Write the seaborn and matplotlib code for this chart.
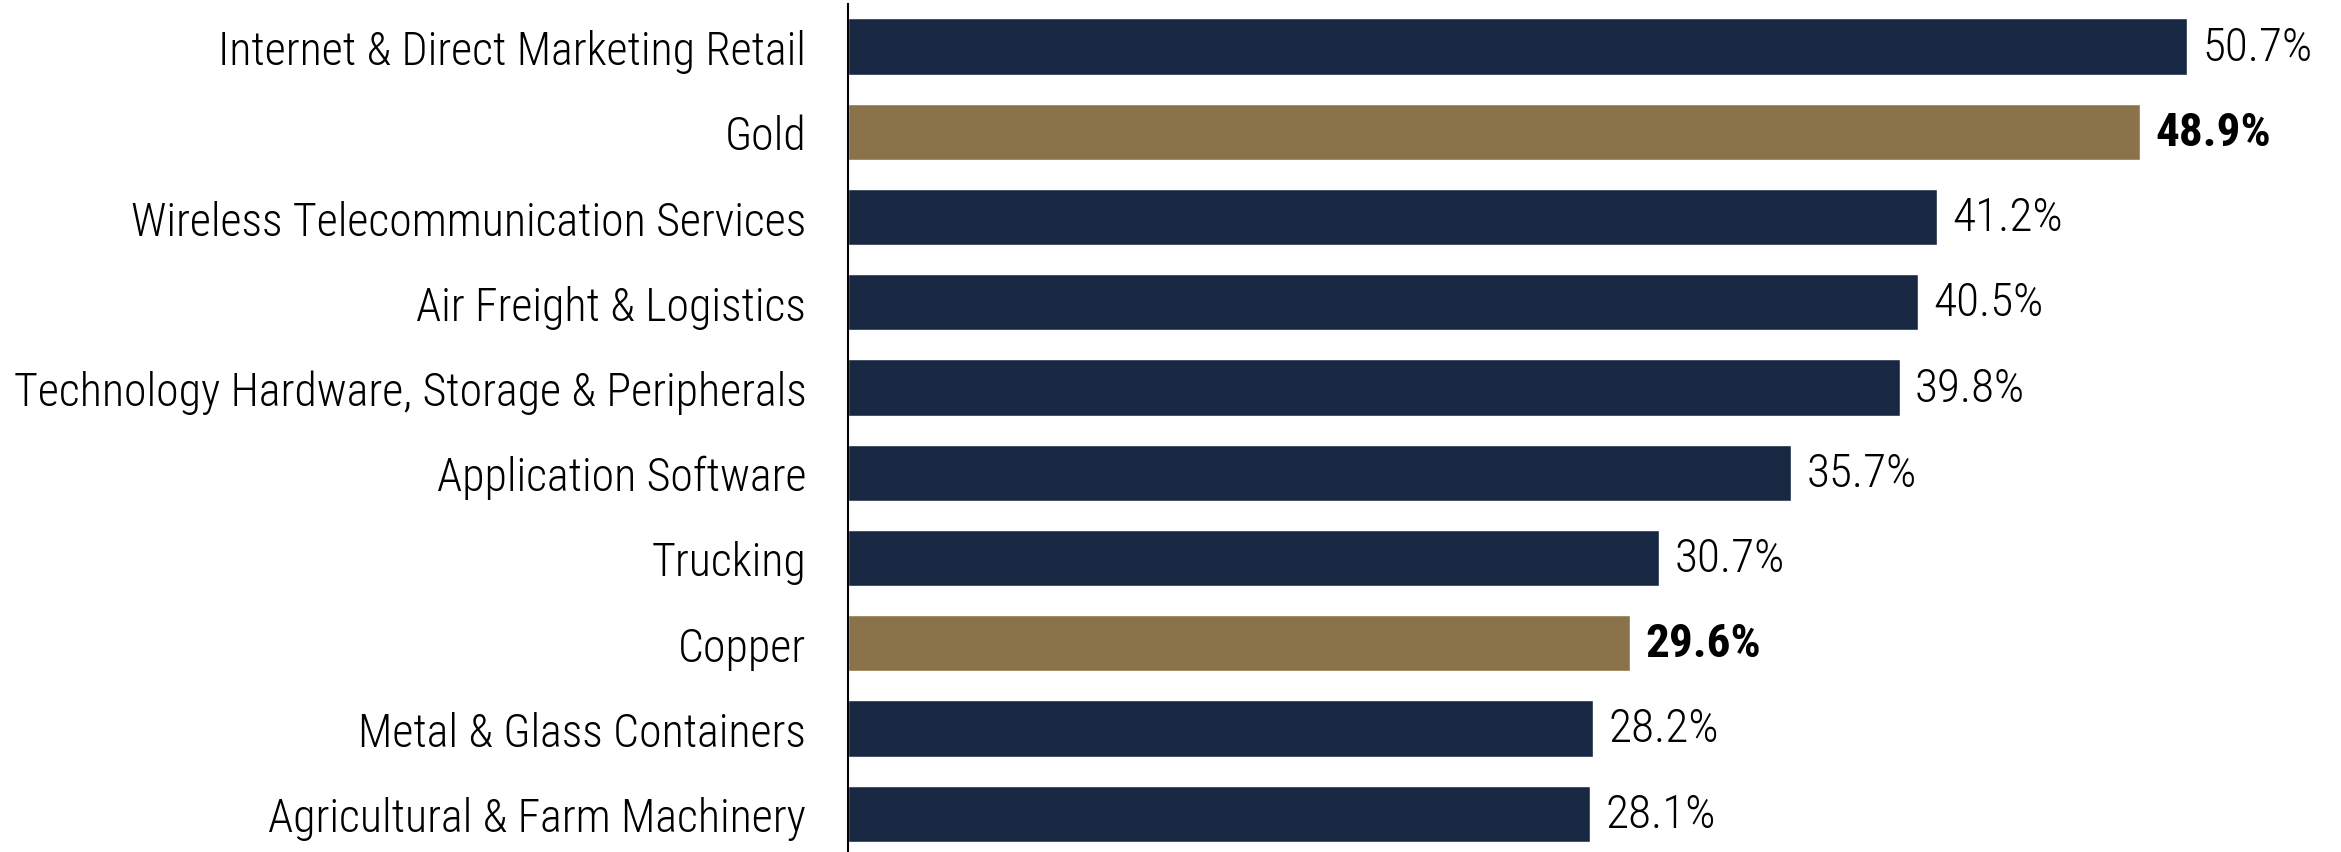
import matplotlib
matplotlib.use("Agg")
import matplotlib.pyplot as plt
import seaborn as sns
import pandas as pd

categories = [
    "Internet & Direct Marketing Retail",
    "Gold",
    "Wireless Telecommunication Services",
    "Air Freight & Logistics",
    "Technology Hardware, Storage & Peripherals",
    "Application Software",
    "Trucking",
    "Copper",
    "Metal & Glass Containers",
    "Agricultural & Farm Machinery",
]
values = [50.7, 48.9, 41.2, 40.5, 39.8, 35.7, 30.7, 29.6, 28.2, 28.1]
highlight = [False, True, False, False, False, False, False, True, False, False]

NAVY = "#192842"
GOLD = "#8A734A"

sns.set_theme(style="white")
plt.rcParams["font.family"] = ["Roboto Condensed", "DejaVu Sans"]

df = pd.DataFrame({
    "category": categories,
    "value": values,
    "group": ["metal" if h else "sector" for h in highlight],
})

fig = plt.figure(figsize=(23.41, 8.53), dpi=100)
ax = fig.add_axes([848 / 2341, 0.0, 1 - 848 / 2341, 1 - 5 / 853])

sns.barplot(
    data=df, x="value", y="category", hue="group",
    palette={"sector": NAVY, "metal": GOLD},
    order=categories, dodge=False, width=0.66,
    legend=False, ax=ax, saturation=1,
)

for i, (v, h) in enumerate(zip(values, highlight)):
    ax.annotate(f"{v:.1f}%", xy=(v, i), xytext=(11, 0), textcoords="offset points",
                va="center", ha="left", fontsize=34,
                fontweight="bold" if h else "light", color="black")

ax.set_xlim(0, (2341 - 848) / 26.42)
ax.set_ylim(9.45, -0.5)
ax.set_xlabel("")
ax.set_ylabel("")
ax.set_xticks([])
ax.tick_params(axis="y", length=0, pad=30, labelsize=33, labelcolor="black")
for lbl in ax.get_yticklabels():
    lbl.set_fontweight("light")
for side in ["top", "right", "bottom"]:
    ax.spines[side].set_visible(False)
ax.spines["left"].set_color("black")
ax.spines["left"].set_linewidth(1.5)

fig.savefig("out.png", dpi=100, facecolor="white")
